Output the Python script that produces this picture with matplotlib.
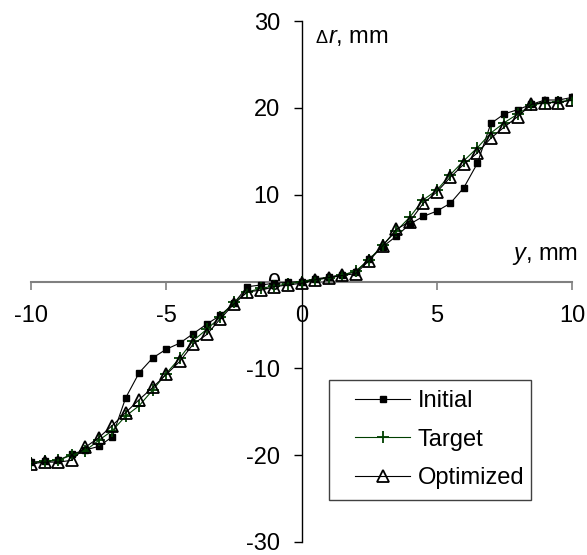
import matplotlib
matplotlib.use("Agg")
import matplotlib.pyplot as plt
from matplotlib.patches import Rectangle

plt.rcParams['font.family'] = ['Liberation Sans', 'DejaVu Sans']
plt.rcParams['mathtext.fontset'] = 'custom'
plt.rcParams['mathtext.rm'] = 'Liberation Sans'
plt.rcParams['mathtext.it'] = 'Liberation Sans:italic'

# displacement y (mm)
y_pos = [-10.0, -9.5, -9.0, -8.5, -8.0, -7.5, -7.0, -6.5, -6.0, -5.5, -5.0,
         -4.5, -4.0, -3.5, -3.0, -2.5, -2.0, -1.5, -1.0, -0.5, 0.0,
         0.5, 1.0, 1.5, 2.0, 2.5, 3.0, 3.5, 4.0, 4.5, 5.0,
         5.5, 6.0, 6.5, 7.0, 7.5, 8.0, 8.5, 9.0, 9.5, 10.0]

initial = [-20.8, -20.7, -20.6, -19.9, -19.4, -19.0, -17.9, -13.4, -10.5, -8.8, -7.8,
           -7.1, -6.0, -4.9, -3.9, -2.5, -0.6, -0.4, -0.2, -0.1, 0.0,
           0.3, 0.5, 0.8, 1.1, 2.6, 4.0, 5.2, 6.6, 7.5, 8.1,
           9.0, 10.8, 13.6, 18.2, 19.3, 19.8, 20.4, 20.9, 20.9, 21.2]

target = [-20.9, -20.7, -20.6, -20.0, -19.5, -18.3, -17.2, -15.5, -14.3, -12.5, -10.6,
          -8.8, -6.8, -5.5, -4.1, -2.4, -1.2, -0.8, -0.5, -0.3, 0.0,
          0.2, 0.4, 0.7, 1.2, 2.5, 4.2, 5.8, 7.4, 9.4, 10.5,
          12.3, 13.9, 15.4, 17.1, 18.3, 19.3, 20.3, 20.6, 20.7, 20.9]

optimized = [-21.0, -20.8, -20.8, -20.6, -19.1, -18.0, -16.6, -15.1, -13.6, -12.2, -10.7,
             -9.2, -7.2, -6.1, -4.3, -2.6, -1.2, -1.0, -0.6, -0.4, -0.2,
             0.2, 0.45, 0.7, 0.9, 2.4, 4.1, 6.0, 6.9, 9.0, 10.3,
             12.0, 13.5, 14.8, 16.5, 17.8, 19.0, 20.4, 20.6, 20.6, 20.9]

x_ticks = [-10, -5, 0, 5, 10]
y_ticks = [-30, -20, -10, 0, 10, 20, 30]

W, H = 587, 555
fig = plt.figure(figsize=(W / 100, H / 100), dpi=100)
ax = fig.add_axes([31 / W, 1 - 542 / H, 541 / W, 521 / H])

green = '#004000'
ax.plot(y_pos, initial, color='black', lw=0.8, marker='s', ms=5,
        mfc='black', mec='black', label='Initial', zorder=3)
ax.plot(y_pos, target, color=green, lw=0.8, marker='+', ms=9,
        mew=1.3, mec=green, label='Target', zorder=4)
ax.plot(y_pos, optimized, color='black', lw=0.8, marker='^', ms=8.5,
        mfc='none', mec='black', mew=1.3, label='Optimized', zorder=5)

ax.set_xlim(-10, 10)
ax.set_ylim(-30, 30)

# axes crossing at the origin
ax.spines['left'].set_position(('data', 0))
ax.spines['bottom'].set_position(('data', 0))
ax.spines['right'].set_visible(False)
ax.spines['top'].set_visible(False)
ax.spines['left'].set_color('black')
ax.spines['left'].set_linewidth(1.0)
ax.spines['bottom'].set_color('#808080')
ax.spines['bottom'].set_linewidth(1.5)
ax.patch.set_visible(False)

ax.set_xticks(x_ticks)
ax.set_yticks(y_ticks)
ax.set_xticklabels([str(v) for v in x_ticks])
ax.set_yticklabels([str(v) for v in y_ticks])
ax.tick_params(axis='x', direction='out', length=6, width=1.2, color='#808080',
               labelsize=17, pad=11)
ax.tick_params(axis='y', direction='out', length=6, width=1.0, color='black',
               labelsize=17, pad=9.5)

# axis titles
fig.text(316 / W, 1 - 43 / H, '\u0394', fontsize=13, ha='left', va='baseline')
fig.text(328 / W, 1 - 43 / H, r'$\mathit{r}$, mm', fontsize=17,
         ha='left', va='baseline')
fig.text(512 / W, 1 - 260 / H, r'$\mathit{y}$, mm', fontsize=17,
         ha='left', va='baseline')

# legend with a plain rectangular frame
ax.add_patch(Rectangle((329 / W, 1 - 500 / H), 202 / W, 120 / H,
                       transform=fig.transFigure, facecolor='white',
                       edgecolor='#404040', lw=1.0, zorder=6, clip_on=False))
leg = ax.legend(loc='upper left', bbox_to_anchor=(355 / W, 1 - 390 / H),
                bbox_transform=fig.transFigure, fontsize=17, frameon=False,
                handlelength=2.35, handletextpad=0.3,
                borderpad=0, labelspacing=0.7, borderaxespad=0)
leg.set_zorder(7)

fig.savefig('out.png', dpi=100)
